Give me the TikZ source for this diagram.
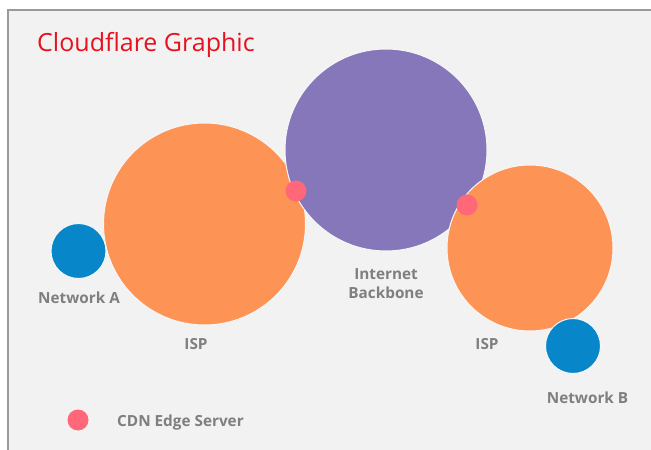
\documentclass[tikz,border=0pt]{standalone}
\usepackage{fontspec}
\setmainfont{Open Sans}
\newfontfamily\labelfont{Open Sans}
\definecolor{bgpanel}{HTML}{F2F2F2}
\definecolor{framegray}{HTML}{9A9A9A}
\definecolor{ispor}{HTML}{FD9354}
\definecolor{backbone}{HTML}{8577BA}
\definecolor{netblue}{HTML}{0787C9}
\definecolor{edgepink}{HTML}{FF6878}
\definecolor{labelgray}{HTML}{7F7F7F}
\definecolor{titlered}{HTML}{E8111E}
\tikzset{
  blob/.style={circle, inner sep=0pt, draw=bgpanel!60!white, line width=1bp},
  edgedot/.style={circle, inner sep=0pt, minimum size=21bp, fill=edgepink},
  lbl/.style={font=\labelfont\bfseries\fontsize{15.3bp}{18bp}\selectfont, text=labelgray, inner sep=0pt, anchor=base},
}
\begin{document}
\begin{tikzpicture}[x=1bp,y=-1bp]
\useasboundingbox (0,0) rectangle (651,450);
\fill[white] (0,0) rectangle (651,450);
\fill[bgpanel] (8,10) rectangle (651,450);
\draw[framegray, line width=2bp] (8,450) -- (8,10) -- (651,10);
% title
\node[anchor=base west, inner sep=0pt, text=titlered, font=\fontsize{25bp}{29bp}\selectfont] (title) at (37,52) {Cloudflare Graphic};
% circles
\node[blob, fill=ispor, minimum size=202bp] (ispA) at (204.5,224) {};
\node[blob, fill=backbone, minimum size=202bp] (core) at (386,150) {};
\node[blob, fill=ispor, minimum size=166bp] (ispB) at (530,248) {};
\node[blob, fill=netblue, minimum size=55bp] (netA) at (78.5,251) {};
\node[blob, fill=netblue, minimum size=55bp] (netB) at (573,346) {};
% edge servers
\node[edgedot] (edgeA) at (296,191) {};
\node[edgedot] (edgeB) at (467,205) {};
\node[edgedot] (legdot) at (78,420) {};
% labels
\node[lbl] (lnetA) at (79,304) {Network A};
\node[lbl] (lispA) at (196,349) {ISP};
\node[lbl] (lcore1) at (386,280) {Internet};
\node[lbl] (lcore2) at (386,299) {Backbone};
\node[lbl] (lispB) at (487,349) {ISP};
\node[lbl] (lnetB) at (587.5,403.5) {Network B};
\node[lbl, anchor=base west] (lleg) at (117,426) {CDN Edge Server};
\end{tikzpicture}
\end{document}
